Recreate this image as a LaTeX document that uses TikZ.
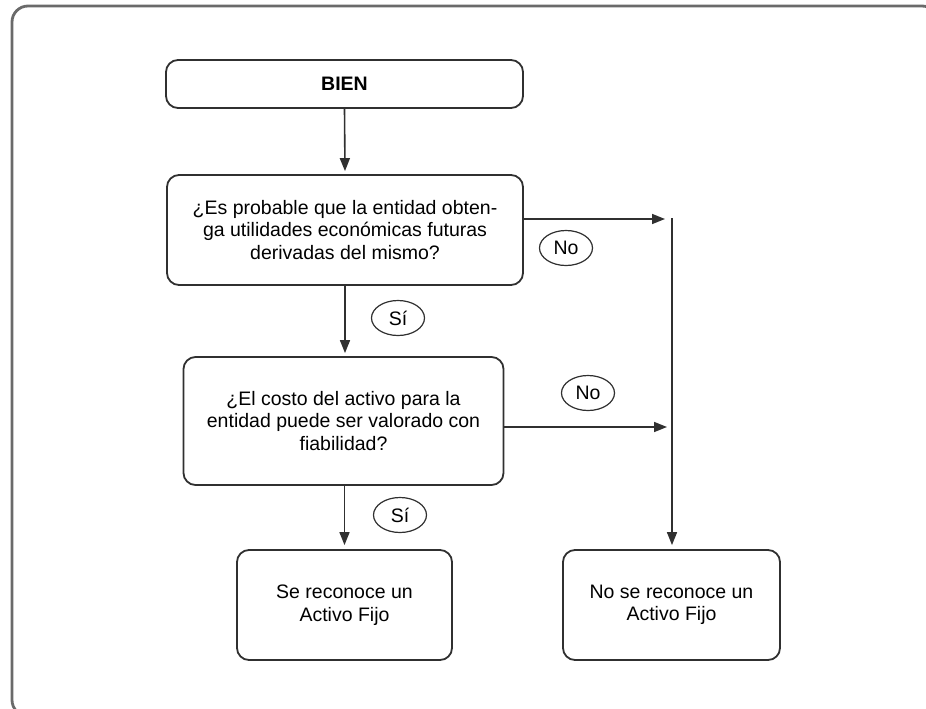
\documentclass[tikz,border=0pt]{standalone}
\usepackage{fontspec}
\setmainfont{Liberation Sans}
\usetikzlibrary{arrows.meta,shapes.geometric}
\definecolor{framegray}{HTML}{6A6A6A}
\definecolor{linegray}{HTML}{303030}
\tikzset{
  box/.style={draw=linegray, line width=1.8pt, rounded corners=12pt,
    align=center, inner sep=0pt, font=\fontsize{19.5}{22.5}\selectfont},
  answer/.style={draw=linegray, line width=1.2pt, ellipse, inner sep=0pt,
    minimum width=53pt, minimum height=35pt, font=\fontsize{19.5}{22.5}\selectfont},
  flow/.style={draw=linegray, line width=1.6pt,
    -{Triangle[length=13pt,width=10pt]}},
}
\begin{document}
\begin{tikzpicture}[x=1pt,y=-1pt]
\useasboundingbox (0,0) rectangle (926,709);
\clip (0,0) rectangle (926,709);
% outer frame, running past the right and bottom edges
\draw[framegray, line width=2.8pt, rounded corners=16pt] (12,6) rectangle (938,716);

% process boxes
\node[box, minimum width=357pt, minimum height=48pt] (bien) at (344.5,84) {\textbf{BIEN}};
\node[box, minimum width=356pt, minimum height=110pt] (q1) at (345,230)
  {¿Es probable que la entidad obten-\\ga utilidades económicas futuras\\derivadas del mismo?};
\node[box, minimum width=320pt, minimum height=128pt] (q2) at (343.5,421)
  {¿El costo del activo para la\\entidad puede ser valorado con\\fiabilidad?};
\node[box, minimum width=215pt, minimum height=110pt] (yes) at (344.5,605)
  {Se reconoce un\\Activo Fijo};
\node[box, minimum width=217pt, minimum height=110pt] (no) at (671.5,605)
  {No se reconoce un\\Activo Fijo};

% junction points on the right-hand column
\coordinate (top) at (672,218);
\coordinate (j1) at (665,219);
\coordinate (j2) at (667,427);

% connectors
\draw[flow, shorten >=3pt] (bien.south) -- (q1.north);
\draw[flow, shorten >=3pt] (q1.south) -- (q1.south |- q2.north);
\draw[flow, shorten >=4pt] (q2.south -| yes.north) -- (yes.north);
\draw[flow] (j1 -| q1.east) -- (j1);
\draw[flow] (j2 -| q2.east) -- (j2);
\draw[flow, shorten >=4pt] (top) -- (top |- no.north);

% answer labels
\node[answer] (si1) at (398,318) {Sí};
\node[answer] (si2) at (400,515) {Sí};
\node[answer] (no1) at (566,248) {No};
\node[answer] (no2) at (588,393) {No};
\end{tikzpicture}
\end{document}
